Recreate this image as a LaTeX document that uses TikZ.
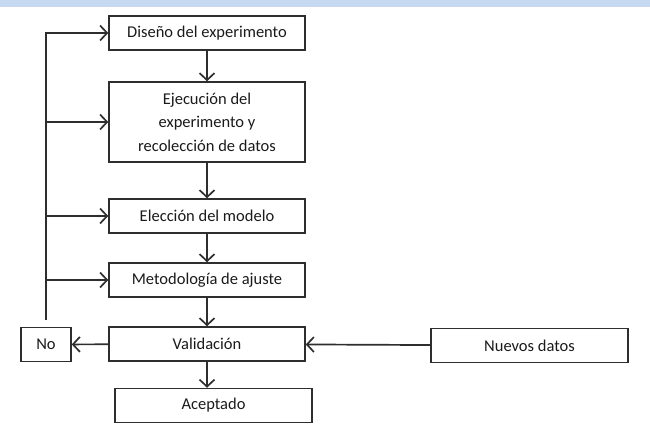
\documentclass[tikz,border=0pt]{standalone}
\usepackage{fontspec}
\setmainfont{Carlito}
\usetikzlibrary{arrows.meta}
\definecolor{linea}{HTML}{2E2E2E}
\definecolor{texto}{HTML}{1A1A1A}
\definecolor{barra}{HTML}{C6D9F1}
\begin{document}
\begin{tikzpicture}[x=1pt, y=-1pt,
		caja/.style={draw=linea, line width=1.5pt, minimum width=196pt, minimum height=34pt,
			inner sep=0pt, align=center, text=texto, font=\fontsize{16.5}{23.5}\selectfont},
		flecha/.style={draw=linea, line width=1.7pt, -{Straight Barb[length=7pt, width=15pt]}}]
		\useasboundingbox (0,0) rectangle (650,430);
		\fill[barra] (0,0) rectangle (650,7);

		% pasos
		\node[caja] (dis) at (207,33) {Diseño del experimento};
		\node[caja, minimum height=80pt] (eje) at (207,122) {Ejecución del\\experimento y\\recolección de datos};
		\node[caja] (ele) at (207,216) {Elección del modelo};
		\node[caja] (met) at (207,280) {Metodología de ajuste};
		\node[caja] (val) at (207,344) {Validación};
		\node[caja, minimum width=197pt] (ace) at (213.5,405.5) {Aceptado};
		\node[caja, minimum width=50pt] (no) at (46,344.5) {No};
		\node[caja, minimum width=197pt] (nue) at (529.5,345.5) {Nuevos datos};

		\draw[flecha] (dis) -- (eje);
		\draw[flecha] (eje) -- (ele);
		\draw[flecha] (ele) -- (met);
		\draw[flecha] (met) -- (val);
		\draw[flecha] (val.south) -- (val.south |- ace.north);
		\draw[flecha] (val) -- (no);
		\draw[flecha] (nue) -- (val);

		% retorno
		\coordinate (fb) at (46,320);
		\draw[flecha] (fb) |- (dis.west);
		\foreach \n in {eje,ele,met}
			\draw[flecha] (fb |- \n.west) -- (\n.west);
	\end{tikzpicture}
\end{document}
